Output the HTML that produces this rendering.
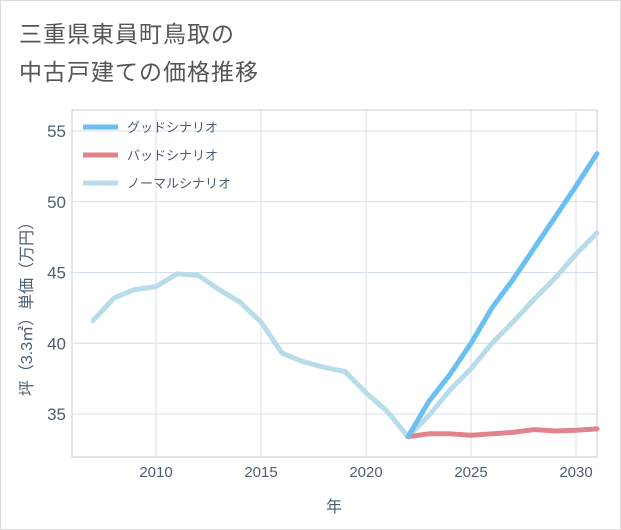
<!DOCTYPE html>
<html><head><meta charset="utf-8"><style>
body{margin:0;background:#fff;font-family:"Liberation Sans","Noto Sans CJK JP",sans-serif}
#wrap{position:relative;width:619px;height:528px;border:1px solid #ddd;background:#fff}
.t{position:absolute;left:18px;font-size:23px;color:#555;letter-spacing:1px}
</style></head><body>
<div id="wrap">
<div class="t" style="top:14px">三重県東員町鳥取の</div>
<div class="t" style="top:52px">中古戸建ての価格推移</div>
<svg id="svg" width="621" height="530" style="position:absolute;left:-1px;top:-1px"></svg>
</div>
<script>
const years=[2007,2008,2009,2010,2011,2012,2013,2014,2015,2016,2017,2018,2019,2020,2021,2022,2023,2024,2025,2026,2027,2028,2029,2030,2031];
const normal=[41.6,43.2,43.8,44.0,44.9,44.8,43.8,42.9,41.5,39.3,38.7,38.3,38.0,36.5,35.2,33.4,34.9,36.7,38.2,40.0,41.5,43.1,44.6,46.3,47.8];
const futureYears=[2022,2023,2024,2025,2026,2027,2028,2029,2030,2031];
const good=[33.4,35.9,37.8,40.0,42.5,44.5,46.7,48.9,51.1,53.4];
const bad=[33.4,33.6,33.6,33.5,33.6,33.7,33.9,33.8,33.85,33.95];
const xTicks=[2010,2015,2020,2025,2030];
const yTicks=[35,40,45,50,55];
const legendLabels=["グッドシナリオ","バッドシナリオ","ノーマルシナリオ"];
const L=72,R=597,T=110,B=457;
const x=v=>156+(v-2010)*21;
const y=v=>414-(v-35)*14.15;
const svg=document.getElementById('svg');const NS='http://www.w3.org/2000/svg';
function mk(t,a,p){const e=document.createElementNS(NS,t);for(const k in a)e.setAttribute(k,a[k]);(p||svg).appendChild(e);return e;}
let r=mk('rect',{x:L,y:T,width:R-L,height:B-T,fill:'#fff',stroke:'#ccc'});


xTicks.forEach(v=>{let l=mk('line',{x1:x(v),x2:x(v),y1:T,y2:B,stroke:'#d5e0ea'});


let t=mk('text',{x:x(v),y:477,'text-anchor':'middle','font-size':15,fill:'#4d5e70'});t.textContent=v;

});
yTicks.forEach(v=>{let l=mk('line',{x1:L,x2:R,y1:y(v),y2:y(v),stroke:'#d5e0ea'});


let t=mk('text',{x:66,y:y(v)+6,'text-anchor':'end','font-size':17,fill:'#4d5e70'});t.textContent=v;

});
function line(xs,ys,c,n){let p=mk('polyline',{points:xs.map((v,i)=>x(v)+','+y(ys[i])).join(' '),fill:'none',stroke:c,'stroke-width':5,'stroke-linejoin':'round','stroke-linecap':'round'});

}
line(years,normal,'#b8dcec','normal-scenario-line');
line(futureYears,bad,'#e0848c','bad-scenario-line');
line(futureYears,good,'#6bbff2','good-scenario-line');
const lc=['#6bbff2','#e0848c','#b8dcec'];
legendLabels.forEach((s,i)=>{let yy=127+i*28;let g=mk('g',{});


mk('line',{x1:83,x2:118,y1:yy,y2:yy,stroke:lc[i],'stroke-width':5},g);
let t=mk('text',{x:127,y:yy+5,'font-size':13,fill:'#4d5e70'},g);t.textContent=s;});
let xt=mk('text',{x:334,y:512,'text-anchor':'middle','font-size':16,fill:'#4d5e70'});xt.textContent='年';


let yt=mk('text',{x:0,y:0,'text-anchor':'middle','font-size':16,fill:'#4d5e70',transform:'translate(32,305) rotate(-90)'});yt.textContent='坪（3.3㎡）単価（万円）';


</script>
</body></html>
